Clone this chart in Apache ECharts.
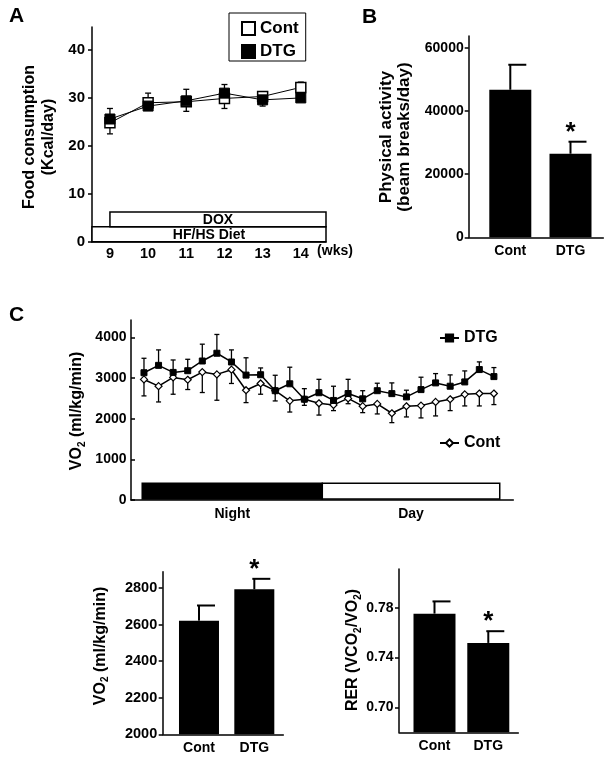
<!DOCTYPE html>
<html><head><meta charset="utf-8">
<script src="https://cdn.jsdelivr.net/npm/echarts@6/dist/echarts.min.js"></script>
<style>html,body{margin:0;padding:0;background:#fff}#c{width:613px;height:763px}</style>
</head><body><div id="c"></div>
<script>
// ---------- Panel A: food consumption ----------
const weeks = [9, 10, 11, 12, 13, 14];
const foodCont = [24.8, 29.0, 29.2, 29.9, 30.3, 32.2];
const foodContUpper = [null, 31.0, 31.8, null, 31.3, 33.3];
const foodContLower = [22.5, null, 27.2, 27.8, null, null];
const foodDTG = [25.6, 28.3, 29.4, 31.0, 29.6, 30.0];
const foodDTGUpper = [27.8, null, null, 32.8, null, null];
const foodDTGLower = [null, null, null, null, 28.3, null];
const foodTicks = [0, 10, 20, 30, 40];
const treatmentNames = ['HF/HS Diet', 'DOX'];
const treatmentFrom = [8.53, 9];
const treatmentTo = [14.66, 14.66];
const treatmentLow = [0, 3.1];
const treatmentHigh = [3.1, 6.2];

// ---------- Panel B: physical activity ----------
const groups = ['Cont', 'DTG'];
const activityMean = [46700, 26450];
const activityUpper = [54600, 30250];
const activitySig = [false, true];
const activityTicks = [0, 20000, 40000, 60000];

// ---------- Panel C: VO2 time course ----------
const vo2DTG = [3132, 3314, 3140, 3182, 3421, 3612, 3397, 3074, 3083, 2690, 2860, 2480, 2640,
                2450, 2620, 2490, 2690, 2618, 2537, 2717, 2882, 2800, 2906, 3210, 3037];
const vo2DTGUpper = [3488, 3694, 3446, 3463, 3835, 4074, 3694, 3500, 3250, 3070, 3268, 2740, 2970,
                     2800, 2970, 2690, 2874, 2882, 2702, 3022, 3111, 3079, 3177, 3399, 3259];
const vo2Cont = [2967, 2802, 3017, 2959, 3149, 3091, 3207, 2702, 2868, 2690, 2440, 2480, 2380,
                 2340, 2500, 2310, 2365, 2135, 2307, 2323, 2414, 2480, 2600, 2620, 2620];
const vo2ContLower = [2562, 2413, 2603, 2719, 2645, 2455, 2868, 2397, 2603, 2438, 2165, 2330, 2090,
                      2200, 2370, 2150, 2118, 1904, 2044, 2020, 2069, 2200, 2315, 2315, 2348];
const vo2Ticks = [0, 1000, 2000, 3000, 4000];
const periodNames = ['Night', 'Day'];
const periodFrom = [-0.12, 12.23];
const periodTo = [12.23, 24.4];
const periodTop = [410, 410];

// ---------- Bottom: mean VO2 and RER ----------
const vo2Mean = [2622, 2794];
const vo2MeanUpper = [2705, 2851];
const vo2Sig = [false, true];
const vo2MeanTicks = [2000, 2200, 2400, 2600, 2800];
const rerMean = [0.7752, 0.7517];
const rerUpper = [0.785, 0.7611];
const rerSig = [false, true];
const rerTicks = [0.70, 0.74, 0.78];

// ---------------------------------------------------------------
const FONT = '"Liberation Sans", Arial, Helvetica, sans-serif';
const BLACK = '#000';
const chart = echarts.init(document.getElementById('c'), null, {renderer: 'canvas', width: 613, height: 763});

function yAxis(gi, min, max, ticks, o) {
  return {
    type: 'value', gridIndex: gi, min: min, max: max,
    axisLine: {show: true, onZero: false, lineStyle: {color: BLACK, width: 1.5}},
    axisTick: {show: true, inside: !!o.inside, length: 4, customValues: ticks, lineStyle: {color: BLACK, width: 1.5}},
    axisLabel: {customValues: ticks, margin: o.margin, color: BLACK, fontSize: o.fs, fontWeight: 'bold', fontFamily: FONT,
                formatter: o.fmt || (v => String(v))},
    splitLine: {show: false}
  };
}
function groupXAxis(gi, min, max) {
  return {
    type: 'value', gridIndex: gi, min: min, max: max,
    axisLine: {show: true, onZero: false, lineStyle: {color: BLACK, width: 1.5}},
    axisTick: {show: false}, splitLine: {show: false},
    axisLabel: {customValues: [1, 2], formatter: v => groups[Math.round(v) - 1], margin: 7,
                color: BLACK, fontSize: 14, fontWeight: 'bold', fontFamily: FONT}
  };
}

// vertical error bar with symmetric cap
function errRender(capHalf) {
  return function (params, api) {
    const x = api.value(0), y = api.value(1), hi = api.value(2), lo = api.value(3);
    const c = api.coord([x, y]);
    const children = [];
    [hi, lo].forEach(function (e) {
      if (e === y || isNaN(e)) return;
      const p = api.coord([x, e]);
      children.push({type: 'line', shape: {x1: c[0], y1: c[1], x2: p[0], y2: p[1]}, style: {stroke: BLACK, lineWidth: 1.3}});
      children.push({type: 'line', shape: {x1: p[0] - capHalf, y1: p[1], x2: p[0] + capHalf, y2: p[1]}, style: {stroke: BLACK, lineWidth: 1.3}});
    });
    return {type: 'group', children: children};
  };
}
// bar error (upward) with cap offset to the right and optional star
function barErrRender(params, api) {
  const x = api.value(0), y = api.value(1), hi = api.value(2), sig = api.value(3);
  const c = api.coord([x, y]);
  const p = api.coord([x, hi]);
  const children = [
    {type: 'line', shape: {x1: c[0], y1: c[1], x2: p[0], y2: p[1]}, style: {stroke: BLACK, lineWidth: 2}},
    {type: 'line', shape: {x1: p[0] - 2, y1: p[1], x2: p[0] + 16, y2: p[1]}, style: {stroke: BLACK, lineWidth: 2}}
  ];
  if (sig) {
    children.push({type: 'text', style: {text: '*', x: p[0], y: p[1] - 9, align: 'center', verticalAlign: 'middle',
      fontSize: 26, fontWeight: 'bold', fontFamily: FONT, fill: BLACK}});
  }
  return {type: 'group', children: children};
}

const series = [];
// Panel A treatment boxes
series.push({
  type: 'custom', xAxisIndex: 0, yAxisIndex: 0, z: 1, silent: true,
  data: treatmentNames.map((n, i) => [treatmentFrom[i], treatmentTo[i], treatmentLow[i], treatmentHigh[i]]),
  renderItem: function (params, api) {
    const p0 = api.coord([api.value(0), api.value(3)]);
    const p1 = api.coord([api.value(1), api.value(2)]);
    return {type: 'group', children: [
      {type: 'rect', shape: {x: p0[0], y: p0[1], width: p1[0] - p0[0], height: p1[1] - p0[1]},
       style: {fill: '#fff', stroke: BLACK, lineWidth: 1.5}},
      {type: 'text', style: {text: treatmentNames[params.dataIndex], x: (p0[0] + p1[0]) / 2, y: (p0[1] + p1[1]) / 2 + 1,
       align: 'center', verticalAlign: 'middle', fontSize: 14, fontWeight: 'bold', fontFamily: FONT, fill: BLACK}}
    ]};
  }
});
series.push({type: 'custom', xAxisIndex: 0, yAxisIndex: 0, z: 2, silent: true, renderItem: errRender(3),
  data: weeks.map((w, i) => [w, foodCont[i], foodContUpper[i] ?? foodCont[i], foodContLower[i] ?? foodCont[i]])});
series.push({type: 'custom', xAxisIndex: 0, yAxisIndex: 0, z: 2, silent: true, renderItem: errRender(3),
  data: weeks.map((w, i) => [w, foodDTG[i], foodDTGUpper[i] ?? foodDTG[i], foodDTGLower[i] ?? foodDTG[i]])});
series.push({type: 'line', name: 'A-Cont', xAxisIndex: 0, yAxisIndex: 0, z: 4,
  data: weeks.map((w, i) => [w, foodCont[i]]), symbol: 'rect', symbolSize: 10, showAllSymbol: true,
  itemStyle: {color: '#fff', borderColor: BLACK, borderWidth: 1.5}, lineStyle: {color: BLACK, width: 1}});
series.push({type: 'line', name: 'A-DTG', xAxisIndex: 0, yAxisIndex: 0, z: 5,
  data: weeks.map((w, i) => [w, foodDTG[i]]), symbol: 'rect', symbolSize: 10, showAllSymbol: true,
  itemStyle: {color: BLACK, borderColor: BLACK, borderWidth: 1}, lineStyle: {color: BLACK, width: 1}});

// Panel B bars
series.push({type: 'bar', xAxisIndex: 1, yAxisIndex: 1, barWidth: 42, itemStyle: {color: BLACK}, silent: true,
  data: groups.map((g, i) => [i + 1, activityMean[i]])});
series.push({type: 'custom', xAxisIndex: 1, yAxisIndex: 1, z: 3, silent: true, renderItem: barErrRender,
  data: groups.map((g, i) => [i + 1, activityMean[i], activityUpper[i], activitySig[i] ? 1 : 0])});

// Panel C
const periodFill = {Night: BLACK, Day: '#fff'};
series.push({
  type: 'custom', xAxisIndex: 2, yAxisIndex: 2, z: 1, silent: true, clip: false,
  data: periodNames.map((n, i) => [periodFrom[i], periodTo[i], periodTop[i]]),
  renderItem: function (params, api) {
    const p0 = api.coord([api.value(0), api.value(2)]);
    const p1 = api.coord([api.value(1), 0]);
    const name = periodNames[params.dataIndex];
    return {type: 'group', children: [
      {type: 'rect', shape: {x: p0[0], y: p0[1], width: p1[0] - p0[0], height: p1[1] - p0[1] - 1},
       style: {fill: periodFill[name], stroke: BLACK, lineWidth: 1.5}},
      {type: 'text', style: {text: name, x: (p0[0] + p1[0]) / 2, y: p1[1] + 14, align: 'center', verticalAlign: 'middle',
       fontSize: 14, fontWeight: 'bold', fontFamily: FONT, fill: BLACK}}
    ]};
  }
});
series.push({type: 'custom', xAxisIndex: 2, yAxisIndex: 2, z: 2, silent: true, renderItem: errRender(2.5),
  data: vo2DTG.map((v, i) => [i, v, vo2DTGUpper[i], v])});
series.push({type: 'custom', xAxisIndex: 2, yAxisIndex: 2, z: 2, silent: true, renderItem: errRender(2.5),
  data: vo2Cont.map((v, i) => [i, v, v, vo2ContLower[i]])});
series.push({type: 'line', name: 'C-Cont', xAxisIndex: 2, yAxisIndex: 2, z: 4,
  data: vo2Cont.map((v, i) => [i, v]), symbol: 'diamond', symbolSize: 7, showAllSymbol: true,
  itemStyle: {color: '#fff', borderColor: BLACK, borderWidth: 1.2}, lineStyle: {color: BLACK, width: 1.5}});
series.push({type: 'line', name: 'C-DTG', xAxisIndex: 2, yAxisIndex: 2, z: 5,
  data: vo2DTG.map((v, i) => [i, v]), symbol: 'rect', symbolSize: 6, showAllSymbol: true,
  itemStyle: {color: BLACK, borderColor: BLACK, borderWidth: 1}, lineStyle: {color: BLACK, width: 1.5}});

// Bottom-left VO2 bars
series.push({type: 'bar', xAxisIndex: 3, yAxisIndex: 3, barWidth: 40, itemStyle: {color: BLACK}, silent: true,
  data: groups.map((g, i) => [i + 1, vo2Mean[i]])});
series.push({type: 'custom', xAxisIndex: 3, yAxisIndex: 3, z: 3, silent: true, clip: false, renderItem: barErrRender,
  data: groups.map((g, i) => [i + 1, vo2Mean[i], vo2MeanUpper[i], vo2Sig[i] ? 1 : 0])});
// Bottom-right RER bars
series.push({type: 'bar', xAxisIndex: 4, yAxisIndex: 4, barWidth: 42, itemStyle: {color: BLACK}, silent: true,
  data: groups.map((g, i) => [i + 1, rerMean[i]])});
series.push({type: 'custom', xAxisIndex: 4, yAxisIndex: 4, z: 3, silent: true, renderItem: barErrRender,
  data: groups.map((g, i) => [i + 1, rerMean[i], rerUpper[i], rerSig[i] ? 1 : 0])});

const legendText = {color: BLACK, fontSize: 17, fontWeight: 'bold', fontFamily: FONT};
const vo2Rich = {
  b: {fontSize: 16, fontWeight: 'bold', fontFamily: FONT, fill: BLACK, lineHeight: 20, verticalAlign: 'middle'},
  s: {fontSize: 10, fontWeight: 'bold', fontFamily: FONT, fill: BLACK, lineHeight: 10, verticalAlign: 'bottom'}
};
function txt(x, y, text, size, extra) {
  return Object.assign({type: 'text', x: x, y: y, silent: true,
    style: {text: text, fontSize: size, fontWeight: 'bold', fontFamily: FONT, fill: BLACK, align: 'center', verticalAlign: 'middle'}}, extra || {});
}

const option = {
  animation: false,
  backgroundColor: '#fff',
  grid: [
    {left: 92, right: 287, top: 27, bottom: 521.3, outerBoundsMode: 'none'},
    {left: 468.7, right: 9.7, top: 36, bottom: 525.7, outerBoundsMode: 'none'},
    {left: 131, right: 99.7, top: 320, bottom: 263, outerBoundsMode: 'none'},
    {left: 162.7, right: 329.7, top: 571.7, bottom: 28.7, outerBoundsMode: 'none'},
    {left: 399, right: 94.7, top: 569, bottom: 30.7, outerBoundsMode: 'none'}
  ],
  xAxis: [
    {type: 'value', gridIndex: 0, min: 8.53, max: 14.66,
     axisLine: {show: true, onZero: false, lineStyle: {color: BLACK, width: 1.5}}, axisTick: {show: false}, splitLine: {show: false},
     axisLabel: {customValues: weeks, margin: 5, color: BLACK, fontSize: 14.5, fontWeight: 'bold', fontFamily: FONT}},
    groupXAxis(1, 0.309, 2.545),
    {type: 'value', gridIndex: 2, min: -0.89, max: 25.33,
     axisLine: {show: true, onZero: false, lineStyle: {color: BLACK, width: 1.5}}, axisTick: {show: false},
     axisLabel: {show: false}, splitLine: {show: false}},
    groupXAxis(3, 0.344, 2.524),
    groupXAxis(4, 0.34, 2.558)
  ],
  yAxis: [
    yAxis(0, 0, 44.8, foodTicks, {margin: 7, fs: 15}),
    yAxis(1, 0, 63700, activityTicks, {margin: 5, fs: 14}),
    yAxis(2, 0, 4430, vo2Ticks, {margin: 4.5, fs: 14, inside: true}),
    yAxis(3, 2000, 2890, vo2MeanTicks, {margin: 5.5, fs: 14.5}),
    yAxis(4, 0.68, 0.811, rerTicks, {margin: 5.5, fs: 14, fmt: v => v.toFixed(2)})
  ],
  legend: [
    {left: 229, top: 13, orient: 'vertical', selectedMode: false, data: [{name: 'A-Cont', icon: 'rect'}, {name: 'A-DTG', icon: 'rect'}],
     formatter: n => n.slice(2), itemWidth: 13, itemHeight: 13, itemGap: 6, padding: [7, 7, 1, 12],
     borderColor: BLACK, borderWidth: 1, textStyle: legendText},
    {left: 439, top: 330, selectedMode: false, data: ['C-DTG'], formatter: n => n.slice(2), itemWidth: 19, itemHeight: 9,
     padding: 0, textStyle: {color: BLACK, fontSize: 16, fontWeight: 'bold', fontFamily: FONT}},
    {left: 439, top: 435, selectedMode: false, data: ['C-Cont'], formatter: n => n.slice(2), itemWidth: 19, itemHeight: 9,
     padding: 0, textStyle: {color: BLACK, fontSize: 16, fontWeight: 'bold', fontFamily: FONT}}
  ],
  graphic: [
    txt(9, 16, 'A', 21, {style: {text: 'A', fontSize: 21, fontWeight: 'bold', fontFamily: FONT, fill: BLACK, align: 'left', verticalAlign: 'middle'}}),
    txt(362, 17, 'B', 21, {style: {text: 'B', fontSize: 21, fontWeight: 'bold', fontFamily: FONT, fill: BLACK, align: 'left', verticalAlign: 'middle'}}),
    txt(9, 315, 'C', 21, {style: {text: 'C', fontSize: 21, fontWeight: 'bold', fontFamily: FONT, fill: BLACK, align: 'left', verticalAlign: 'middle'}}),
    txt(39.5, 137, '', 16, {rotation: Math.PI / 2, style: {text: 'Food consumption\n(Kcal/day)', fontSize: 16, lineHeight: 19,
      fontWeight: 'bold', fontFamily: FONT, fill: BLACK, align: 'center', verticalAlign: 'middle'}}),
    txt(335, 251, '(wks)', 14),
    txt(395.5, 137, '', 17, {rotation: Math.PI / 2, style: {text: 'Physical activity\n(beam breaks/day)', fontSize: 17, lineHeight: 18,
      fontWeight: 'bold', fontFamily: FONT, fill: BLACK, align: 'center', verticalAlign: 'middle'}}),
    {type: 'text', x: 77, y: 411, rotation: Math.PI / 2, silent: true,
     style: {text: '{b|VO}{s|2}{b| (ml/kg/min)}', rich: vo2Rich, align: 'center', verticalAlign: 'middle'}},
    {type: 'text', x: 100.7, y: 646, rotation: Math.PI / 2, silent: true,
     style: {text: '{b|VO}{s|2}{b| (ml/kg/min)}', rich: vo2Rich, align: 'center', verticalAlign: 'middle'}},
    {type: 'text', x: 353, y: 650, rotation: Math.PI / 2, silent: true,
     style: {text: '{b|RER (VCO}{s|2}{b|/VO}{s|2}{b|)}', rich: vo2Rich, align: 'center', verticalAlign: 'middle'}}
  ],
  series: series
};
chart.setOption(option);
</script>
</body></html>
